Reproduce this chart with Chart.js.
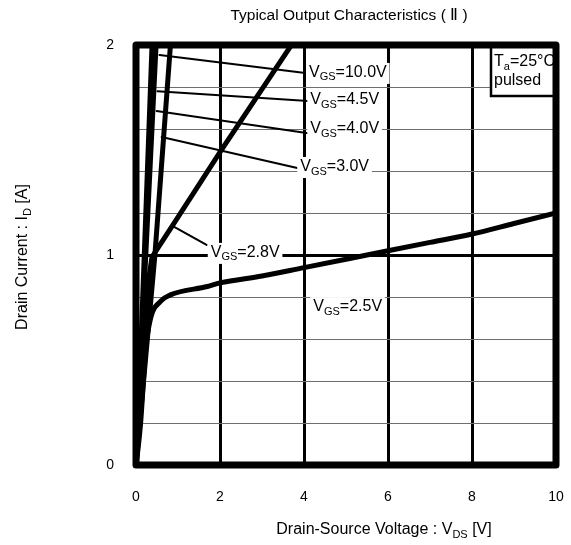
<!DOCTYPE html>
<html>
<head>
<meta charset="utf-8">
<script src="https://cdn.jsdelivr.net/npm/chart.js@4.4.0/dist/chart.umd.min.js"></script>
<style>
  html, body { margin: 0; padding: 0; background: #fff; }
</style>
</head>
<body>
<canvas id="myChart" width="571" height="545"></canvas>
<script>
// drain current curves, one pair of arrays per gate voltage
const vds100 = [0, 0.37];
const id100  = [0, 2.0];
const vds45  = [0, 0.43];
const id45   = [0, 2.0];
const vds40  = [0, 0.49];
const id40   = [0, 2.0];
const vds30  = [0, 0.45, 0.82];
const id30   = [0, 1.0, 2.0];
const vds28  = [0, 0.1, 0.2, 0.3, 0.38, 1, 2, 3, 3.7];
const id28   = [0, 0.3, 0.62, 0.88, 0.99, 1.18, 1.49, 1.79, 2.0];
const vds25  = [0, 0.05, 0.11, 0.23, 0.35, 0.59, 0.82, 1.7, 2, 3, 4, 5, 6, 7, 8, 9, 10];
const id25   = [0, 0.08, 0.2, 0.55, 0.7, 0.78, 0.81, 0.85, 0.867, 0.9, 0.94, 0.98, 1.02, 1.06, 1.1, 1.15, 1.2];

const vgsNames = ['10.0V', '4.5V', '4.0V', '3.0V', '2.8V', '2.5V'];

// leader lines from curve to label (V, A)
const leadVds = [[0.56, 4.03], [0.51, 4.1], [0.49, 4.1], [0.61, 3.84], [0.92, 1.68]];
const leadId  = [[1.952, 1.867], [1.78, 1.733], [1.686, 1.58], [1.562, 1.414], [1.133, 1.048]];

const xTickLabels = ['0', '2', '4', '6', '8', '10'];
const yTickLabels = ['0', '1', '2'];

// label anchor (left edge, middle) in data units
const labelAt = [[4.12, 1.867], [4.15, 1.738], [4.15, 1.6], [3.91, 1.419], [1.78, 1.01], [4.22, 0.752]];

const FONT = '"Liberation Sans", Arial, Helvetica, sans-serif';

function pts(xs, ys){
    return xs.map(function(x, i){ return {x: x, y: ys[i]}; });
}

function curve(xs, ys, w, mono){
    return {
        data: pts(xs, ys),
        borderColor: '#000',
        borderWidth: w,
        pointRadius: 0,
        fill: false,
        tension: 0,
        cubicInterpolationMode: mono ? 'monotone' : 'default',
        borderCapStyle: 'round',
        borderJoinStyle: 'round'
    };
}

let datasets = [
    curve(vds100, id100, 4),
    curve(vds45, id45, 4),
    curve(vds40, id40, 4),
    curve(vds30, id30, 5),
    curve(vds28, id28, 5),
    curve(vds25, id25, 5, true)
];
leadVds.forEach(function(xs, i){
    datasets.push(curve(xs, leadId[i], 2));
});

// text with a subscript part
function richText(c, parts, x, y, size, align){
    let subSize = Math.round(size * 0.68);
    let total = 0;
    parts.forEach(function(p){
        c.font = (p.sub ? subSize : size) + 'px ' + FONT;
        p.w = c.measureText(p.t).width;
        total += p.w;
    });
    let cx = align === 'center' ? x - total / 2 : x;
    c.textAlign = 'left';
    c.textBaseline = 'middle';
    parts.forEach(function(p){
        c.font = (p.sub ? subSize : size) + 'px ' + FONT;
        c.fillText(p.t, cx, p.sub ? y + size * 0.28 : y);
        cx += p.w;
    });
    return total;
}

const decor = {
    id: 'decor',
    afterDatasetsDraw: function(chart){
        const c = chart.ctx;
        const a = chart.chartArea;
        const xs = chart.scales.x, ys = chart.scales.y;
        c.save();
        c.fillStyle = '#000';

        // curve labels on white
        vgsNames.forEach(function(name, i){
            let parts = [{t: 'V'}, {t: 'GS', sub: true}, {t: '=' + name}];
            let px = xs.getPixelForValue(labelAt[i][0]);
            let py = ys.getPixelForValue(labelAt[i][1]);
            c.font = '16px ' + FONT;
            let w = c.measureText('V=' + name).width + c.measureText('GS').width * 0.68;
            c.fillStyle = '#fff';
            c.fillRect(px - 3, py - 10, w + 6, 21);
            c.fillStyle = '#000';
            richText(c, parts, px, py, 16, 'left');
        });

        // Ta box
        let bx = 491, by = a.top, bw = a.right - 491, bh = 51;
        c.fillStyle = '#fff';
        c.fillRect(bx, by, bw, bh);
        c.strokeStyle = '#000';
        c.lineWidth = 2.5;
        c.strokeRect(bx, by, bw, bh);
        c.fillStyle = '#000';
        richText(c, [{t: 'T'}, {t: 'a', sub: true}, {t: '=25°C'}], bx + 3, by + 17, 16, 'left');
        richText(c, [{t: 'pulsed'}], bx + 3, by + 36, 16, 'left');

        // heavy frame
        c.lineWidth = 7;
        c.lineJoin = 'round';
        c.strokeRect(a.left, a.top, a.right - a.left, a.bottom - a.top);

        // titles
        c.fillStyle = '#000';
        c.font = '15.5px ' + FONT;
        c.textAlign = 'center';
        c.textBaseline = 'middle';
        c.fillText('Typical Output Characteristics ( Ⅱ )', 349, 16);
        richText(c, [{t: 'Drain-Source Voltage : V'}, {t: 'DS', sub: true}, {t: ' [V]'}], 384, 530, 16, 'center');
        c.translate(23, 257);
        c.rotate(-Math.PI / 2);
        richText(c, [{t: 'Drain Current : I'}, {t: 'D', sub: true}, {t: ' [A]'}], 0, 0, 16, 'center');
        c.restore();
    }
};

const ctx = document.getElementById('myChart');
const myChart = new Chart(ctx, {
    type: 'line',
    data: { datasets: datasets },
    options: {
        responsive: false,
        animation: false,
        devicePixelRatio: 1,
        layout: { padding: { top: 45, right: 15, left: 0, bottom: 0 } },
        plugins: { legend: { display: false }, tooltip: { enabled: false } },
        scales: {
            x: {
                type: 'linear', min: 0, max: 10,
                afterFit: function(s){ s.height = 80; s.paddingLeft = 0; s.paddingRight = 0; },
                border: { display: false },
                grid: {
                    drawTicks: false,
                    color: function(g){ return (g.tick && (g.tick.value === 0 || g.tick.value === 10)) ? 'rgba(0,0,0,0)' : '#000'; },
                    lineWidth: 3
                },
                ticks: {
                    stepSize: 2, padding: 24, color: '#000',
                    font: { family: FONT, size: 14 },
                    callback: function(v){ let s = String(+v.toFixed(3)); return xTickLabels.includes(s) ? s : ''; }
                }
            },
            y: {
                type: 'linear', min: 0, max: 2,
                afterFit: function(s){ s.width = 136; s.paddingTop = 0; s.paddingBottom = 0; },
                border: { display: false },
                grid: {
                    drawTicks: false,
                    color: function(g){
                        let v = g.tick ? Math.round(g.tick.value * 10) / 10 : -1;
                        if (v === 0 || v === 2) return 'rgba(0,0,0,0)';
                        return v === 1 ? '#000' : '#6e6e6e';
                    },
                    lineWidth: function(g){
                        let v = g.tick ? Math.round(g.tick.value * 10) / 10 : -1;
                        return v === 1 ? 3 : 1;
                    }
                },
                ticks: {
                    stepSize: 0.2, padding: 22, color: '#000',
                    font: { family: FONT, size: 14 },
                    callback: function(v){ let s = String(+v.toFixed(3)); return yTickLabels.includes(s) ? s : ''; }
                }
            }
        }
    },
    plugins: [decor]
});
</script>
</body>
</html>
